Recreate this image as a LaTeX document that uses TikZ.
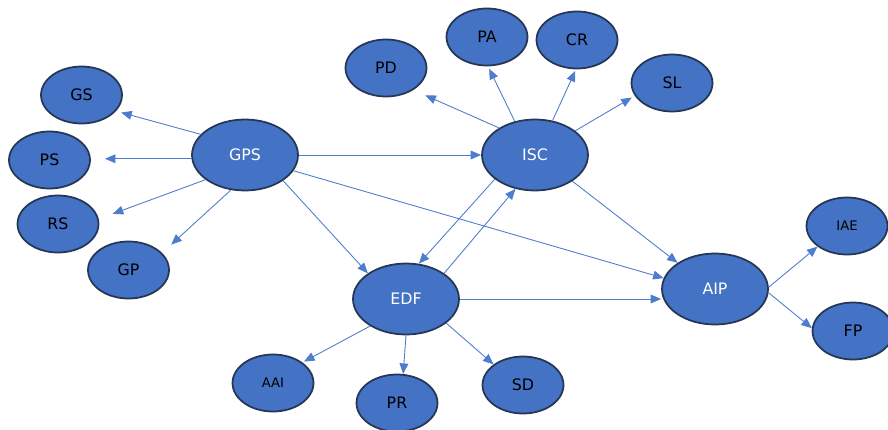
\documentclass[tikz,border=0pt]{standalone}
\usepackage{fontspec}
\setmainfont{DejaVu Sans}
\usetikzlibrary{arrows.meta,shapes.geometric,positioning}

\definecolor{nodeblue}{RGB}{68,114,196}
\definecolor{nodeline}{RGB}{38,54,85}
\definecolor{edgeblue}{RGB}{79,125,205}

\tikzset{
	leaf/.style={ellipse, draw=nodeline, line width=1pt, fill=nodeblue,
		minimum width=1.62cm, minimum height=1.14cm, inner sep=0pt,
		font=\fontsize{9}{10}\selectfont, text=black},
	hub/.style={leaf, minimum width=2.12cm, minimum height=1.42cm, text=white},
	small/.style={font=\fontsize{7.5}{9}\selectfont},
	edge/.style={draw=edgeblue, line width=0.5pt, -{Triangle[length=6pt,width=5pt]}}
}

\begin{document}
\begin{tikzpicture}[x=0.02cm, y=-0.02cm]

		% === page bounds ===
		\useasboundingbox (0,0) rectangle (888,429);

		% === Hubs ===
		\node[hub] (GPS) at (245,155) {GPS};
		\node[hub] (ISC) at (535,155) {ISC};
		\node[hub] (EDF) at (406,299) {EDF};
		\node[hub] (AIP) at (715,289) {AIP};

		% === Leaves ===
		\foreach \name/\x/\y in {GS/81.5/95, PS/49.5/160, RS/58/224, GP/128.5/270,
				PD/386/68, PA/487/37, CR/577/40, SL/672/83,
				PR/397/403, SD/523/385, FP/853/331} {
			\node[leaf] (\name) at (\x,\y) {\name};
		}
		\node[leaf, small] (AAI) at (273,383) {AAI};
		\node[leaf, small] (IAE) at (847,226) {IAE};

		% === Connectors (from/to/gap) ===
		\foreach \a/\b/\s in {GPS.155/GS.335/3pt,
				GPS.212/RS.7/8.5pt, GPS.248/GP.27/7pt,
				GPS.east/ISC.west/0pt, GPS.326/EDF.146/0pt, GPS.342/AIP.168/0pt,
				ISC.211/EDF.70/0pt, EDF.34/ISC.240/0pt, ISC.325/AIP.145/0pt,
				ISC.143/PD.321/7.5pt, ISC.121/PA.272/1.5pt,
				ISC.63/CR.268/1pt, ISC.31/SL.199/2pt,
				EDF.217/AAI.35/1pt, EDF.270/PR.78/0pt, EDF.329/SD.145/0pt,
				AIP.2/IAE.215/0pt, AIP.356/FP.176/0pt} {
			\draw[edge, shorten >=\s] (\a) -- (\b);
		}
		\draw[edge, shorten >=8pt] (GPS.184) -- (GPS.184 -| PS.east);	% GPS to PS
		\draw[edge] (EDF.east) -- (AIP.west |- EDF.east);	% EDF to AIP
	\end{tikzpicture}
\end{document}
